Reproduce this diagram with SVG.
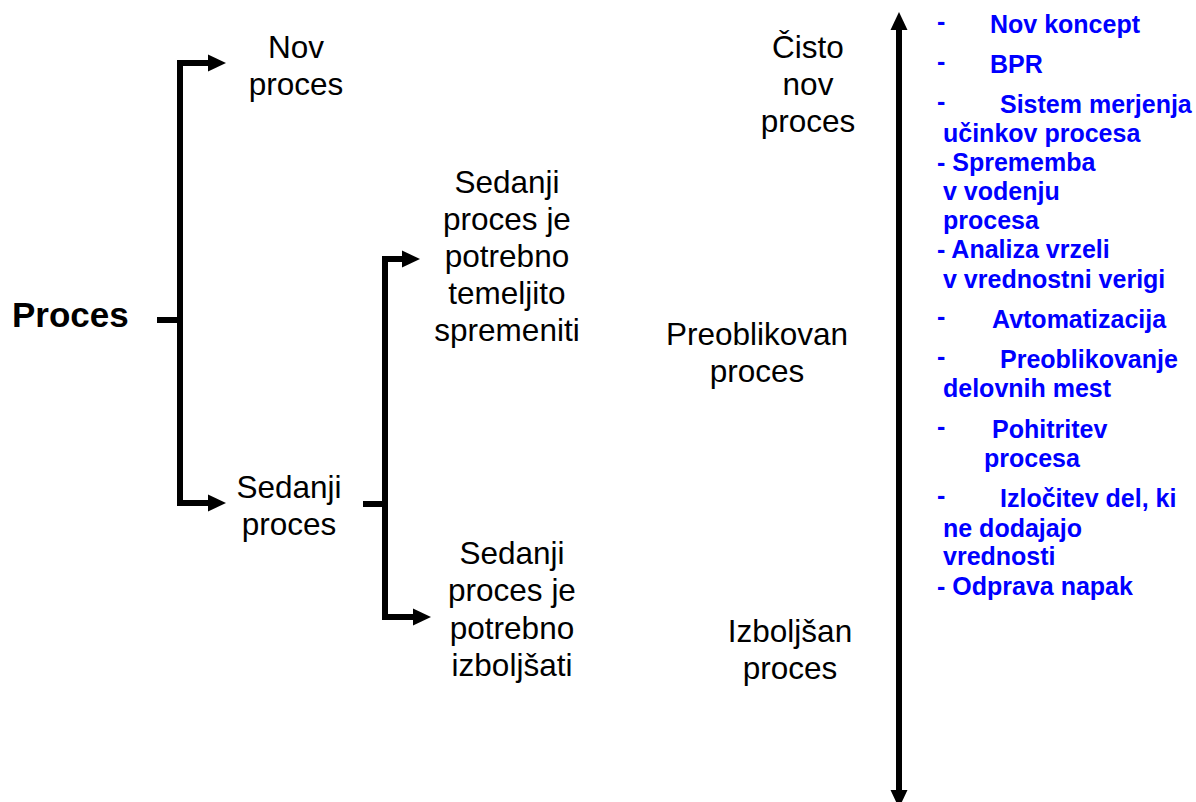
<svg xmlns="http://www.w3.org/2000/svg" width="1196" height="802" viewBox="0 0 1196 802">
  <style>
    .lbl { font-family: "Liberation Sans", Arial, sans-serif; font-size: 31.5px; fill: #000; text-anchor: middle; }
    .root { font-family: "Liberation Sans", Arial, sans-serif; font-size: 35px; font-weight: bold; fill: #000; }
    .item { font-family: "Liberation Sans", Arial, sans-serif; font-size: 25px; font-weight: bold; fill: #0000ff; }
    .wire { fill: none; stroke: #000; stroke-width: 6; stroke-linejoin: miter; stroke-linecap: butt; }
  </style>
  <defs>
    <marker id="head" markerUnits="userSpaceOnUse" markerWidth="18" markerHeight="17" refX="0" refY="8.5" orient="auto-start-reverse" overflow="visible">
      <path d="M0,0 L18,8.5 L0,17 Z" fill="#000"/>
    </marker>
  </defs>
  <rect width="1196" height="802" fill="#fff"/>

  <!-- connectors -->
  <g id="connectors">
    <path class="wire" d="M157,320 H180"/>
    <path class="wire" d="M208,63 H180 V503 H208" marker-start="url(#head)" marker-end="url(#head)"/>
    <path class="wire" d="M363,504 H385"/>
    <path class="wire" d="M402,259 H385 V617 H413" marker-start="url(#head)" marker-end="url(#head)"/>
    <path class="wire" d="M899,30 V790" marker-start="url(#head)" marker-end="url(#head)"/>
  </g>

  <g id="proces"><text class="root" x="12" y="327">Proces</text></g>

  <g id="nov-proces">
    <text class="lbl" x="296" y="58">Nov</text>
    <text class="lbl" x="296" y="95">proces</text>
  </g>

  <g id="sedanji-proces">
    <text class="lbl" x="289" y="498">Sedanji</text>
    <text class="lbl" x="289" y="535">proces</text>
  </g>

  <g id="temeljito">
    <text class="lbl" x="507" y="193">Sedanji</text>
    <text class="lbl" x="507" y="230">proces je</text>
    <text class="lbl" x="507" y="267">potrebno</text>
    <text class="lbl" x="507" y="304">temeljito</text>
    <text class="lbl" x="507" y="341">spremeniti</text>
  </g>

  <g id="izboljsati">
    <text class="lbl" x="512" y="564">Sedanji</text>
    <text class="lbl" x="512" y="601">proces je</text>
    <text class="lbl" x="512" y="639">potrebno</text>
    <text class="lbl" x="512" y="676">izboljšati</text>
  </g>

  <g id="cisto-nov">
    <text class="lbl" x="808" y="58">Čisto</text>
    <text class="lbl" x="808" y="95">nov</text>
    <text class="lbl" x="808" y="132">proces</text>
  </g>

  <g id="preoblikovan">
    <text class="lbl" x="757" y="345">Preoblikovan</text>
    <text class="lbl" x="757" y="382">proces</text>
  </g>

  <g id="izboljsan">
    <text class="lbl" x="790" y="642">Izboljšan</text>
    <text class="lbl" x="790" y="679">proces</text>
  </g>

  <!-- list of approaches -->
  <g id="approaches">
    <text class="item" x="937" y="30">-</text>
    <text class="item" x="990" y="33">Nov koncept</text>
    <text class="item" x="937" y="70">-</text>
    <text class="item" x="990" y="73">BPR</text>
    <text class="item" x="937" y="110">-</text>
    <text class="item" x="1000" y="113">Sistem merjenja</text>
    <text class="item" x="943" y="142">učinkov procesa</text>
    <text class="item" x="937" y="171">- Sprememba</text>
    <text class="item" x="943" y="200">v vodenju</text>
    <text class="item" x="943" y="229">procesa</text>
    <text class="item" x="937" y="258">- Analiza vrzeli</text>
    <text class="item" x="943" y="288">v vrednostni verigi</text>
    <text class="item" x="937" y="325">-</text>
    <text class="item" x="992" y="328">Avtomatizacija</text>
    <text class="item" x="937" y="365">-</text>
    <text class="item" x="1000" y="368">Preoblikovanje</text>
    <text class="item" x="943" y="397">delovnih mest</text>
    <text class="item" x="937" y="435">-</text>
    <text class="item" x="992" y="438">Pohitritev</text>
    <text class="item" x="984" y="467">procesa</text>
    <text class="item" x="937" y="504">-</text>
    <text class="item" x="1000" y="507">Izločitev del, ki</text>
    <text class="item" x="943" y="537">ne dodajajo</text>
    <text class="item" x="943" y="565">vrednosti</text>
    <text class="item" x="937" y="595">- Odprava napak</text>
  </g>
</svg>
